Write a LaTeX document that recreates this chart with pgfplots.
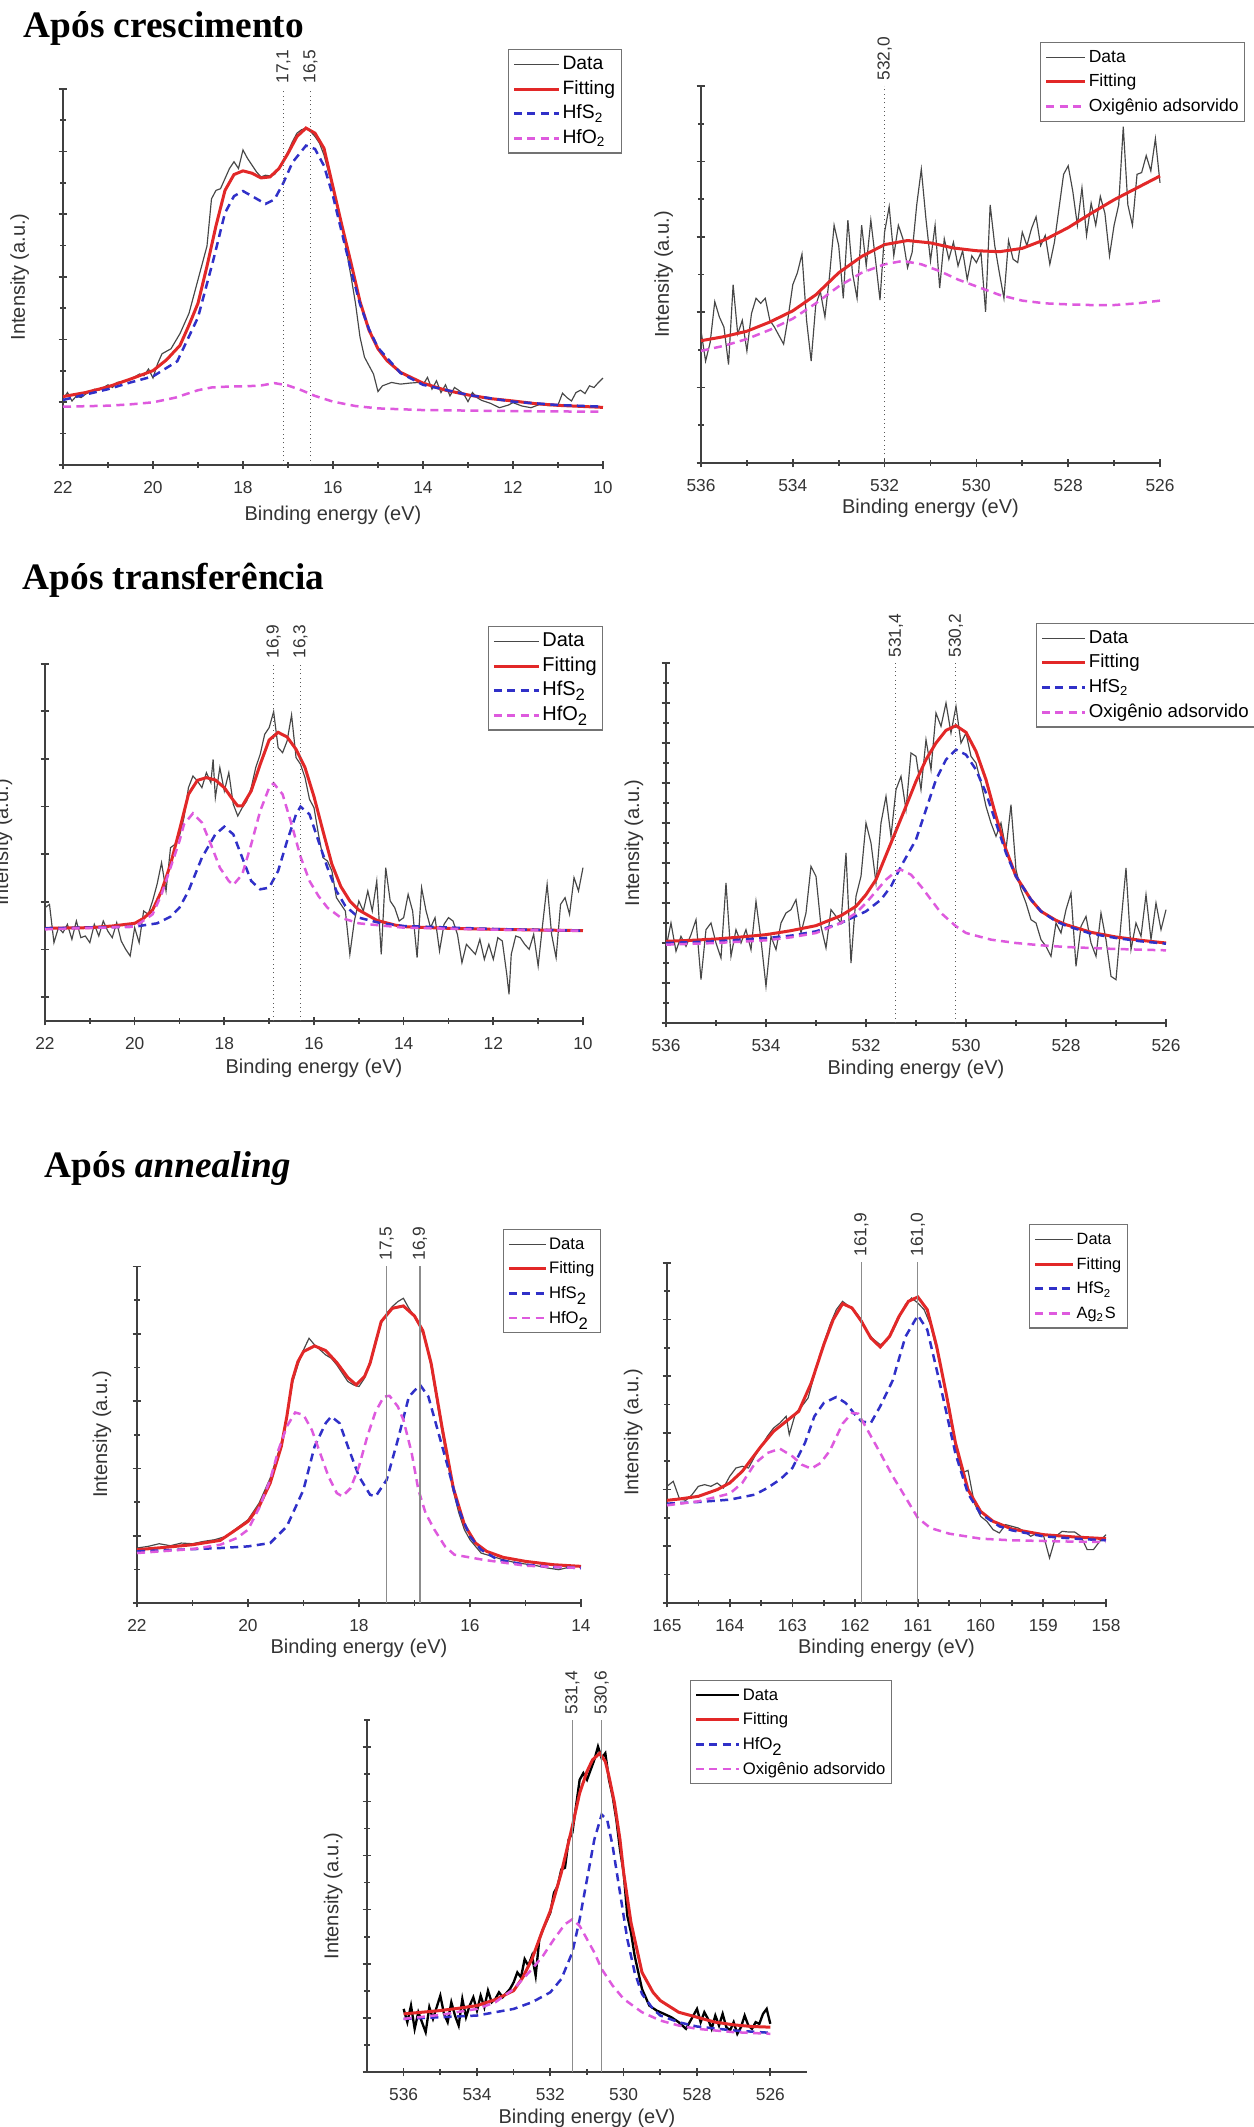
\documentclass[border=0pt]{standalone}
\usepackage{fontspec}
\setmainfont{Liberation Sans}
\newfontfamily\titlefont{Liberation Serif}
\usepackage{pgfplots}
\pgfplotsset{compat=1.18}

\definecolor{fitred}{RGB}{226,40,40}
\definecolor{hfsblue}{RGB}{48,48,200}
\definecolor{hfopink}{RGB}{222,90,222}

\tikzset{
  dat/.style={color=black!72, line width=0.35pt},
  fit/.style={color=fitred, line width=0.9pt},
  hfs/.style={color=hfsblue, line width=0.75pt, dash pattern=on 2.4pt off 1.6pt},
  hfo/.style={color=hfopink, line width=0.75pt, dash pattern=on 2.4pt off 1.6pt},
  pk/.style={black!65, line width=0.3pt, densely dotted},
  pks/.style={black!45, line width=0.35pt},
  pklab/.style={rotate=90, anchor=west, inner sep=1.5pt, font=\fontsize{5.2}{6}\selectfont, text=black!80},
}

\pgfplotsset{
  legimg/.style={legend image code/.code={\draw[##1] (0pt,0pt) -- (#1,0pt);}},
  legfont/.style={legend style={font=\fontsize{#1}{6}\selectfont}},
  xps/.style={
    scale only axis, axis lines*=left,
    axis line style={-, line width=0.6pt, draw=black!75},
    x dir=reverse, tick align=center,
    major tick length=2.6pt, minor tick length=1.6pt,
    every tick/.style={black!75, line width=0.5pt},
    minor x tick num=1, minor y tick num=1,
    yticklabels={},
    ticklabel style={font=\fontsize{5.2}{6}\selectfont, text=black!80},
    /pgf/number format/assume math mode=true,
    label style={font=\fontsize{6}{7}\selectfont, text=black!80},
    clip=false, ymin=0,
    legend cell align=left,
    legend style={draw=black!55, line width=0.35pt, fill=white, anchor=north west,
      inner xsep=1.2pt, inner ysep=1pt, row sep=0.6pt,
      nodes={inner sep=0.6pt, text height=4.3pt, text depth=1.3pt}},
    legimg=13pt, legfont=5.8,
    xlabel={Binding energy (eV)}, ylabel={Intensity (a.u.)},
  },
}

\begin{document}
\begin{tikzpicture}

% titles
\node[anchor=base west, inner sep=0pt, font=\titlefont\bfseries\fontsize{11.2}{13}\selectfont] at (6.9pt,626.7pt) {Após crescimento};
\node[anchor=base west, inner sep=0pt, font=\titlefont\bfseries\fontsize{11.2}{13}\selectfont] at (6.6pt,461.1pt) {Após transferência};
\node[anchor=base west, inner sep=0pt, font=\titlefont\bfseries\fontsize{11.2}{13}\selectfont] at (13.2pt,284.7pt) {Após \textit{annealing}};

% ---------- panel 1: Hf 4f, after growth
\begin{axis}[xps, at={(18.9pt,498.6pt)}, anchor=south west, width=162pt, height=112.8pt,
  xmin=10, xmax=22, xtick={10,12,...,22}, ymax=1116, ytick distance=186,
  xlabel style={at={(axis description cs:0.5,-0.133)}, anchor=center},
  ylabel style={at={(axis description cs:-0.08,0.5)}, anchor=center},
  legend style={at={(0.824,1.106)}}, legimg=13.5pt, legfont=5.8]
\addplot[dat] coordinates {(22,195) (21.9,215) (21.8,190) (21.7,205) (21.6,200) (21.5,210) (21.3,225) (21.2,222) (21.0,238) (20.9,230) (20.8,245) (20.6,250) (20.4,262) (20.3,270) (20.2,265) (20.1,285) (20.0,258) (19.9,300) (19.8,330) (19.6,345) (19.4,390) (19.2,450) (19.0,550) (18.8,650) (18.7,790) (18.6,815) (18.5,820) (18.4,850) (18.3,880) (18.2,900) (18.1,880) (18.0,935) (17.9,910) (17.8,890) (17.7,870) (17.6,855) (17.5,860) (17.4,858) (17.3,862) (17.2,880) (17.1,905) (17.0,930) (16.9,960) (16.8,985) (16.7,995) (16.6,1000) (16.5,990) (16.4,975) (16.3,955) (16.2,920) (16.0,820) (15.8,710) (15.6,560) (15.5,480) (15.4,380) (15.3,320) (15.1,270) (15.0,218) (14.9,235) (14.7,245) (14.5,240) (14.3,243) (14.1,245) (14.0,238) (13.9,260) (13.8,225) (13.7,250) (13.6,215) (13.5,238) (13.4,205) (13.3,230) (13.1,212) (13.0,188) (12.9,215) (12.8,200) (12.7,192) (12.5,183) (12.3,170) (12.1,178) (12.0,185) (11.8,175) (11.6,170) (11.4,180) (11.2,176) (11.0,178) (10.9,213) (10.8,200) (10.7,190) (10.6,215) (10.5,222) (10.4,212) (10.3,235) (10.2,230) (10.1,245) (10.0,258)};
\addlegendentry{Data}
\addplot[fit] coordinates {(22,203) (21.5,215) (21,232) (20.5,255) (20,280) (19.7,312) (19.4,355) (19.2,415) (19,480) (18.8,590) (18.6,710) (18.4,815) (18.2,862) (18.0,873) (17.8,866) (17.6,852) (17.4,855) (17.2,880) (17.0,925) (16.8,975) (16.6,1000) (16.4,985) (16.2,940) (16.0,825) (15.8,710) (15.6,600) (15.4,485) (15.2,400) (15.0,345) (14.8,310) (14.5,275) (14.0,243) (13.5,222) (13,208) (12.5,197) (12,190) (11.5,182) (11,177) (10.5,174) (10,171)};
\addlegendentry{Fitting}
\addplot[hfs] coordinates {(22,193) (21,225) (20.5,245) (20,263) (19.46,308) (19.0,438) (18.66,608) (18.4,748) (18.2,798) (18.0,813) (17.8,798) (17.5,775) (17.3,788) (17.1,838) (16.9,898) (16.6,948) (16.4,938) (16.2,888) (16.0,798) (15.8,688) (15.6,578) (15.4,478) (15.2,403) (15.0,348) (14.5,273) (14.0,238) (13,208) (12,188) (11,178) (10,173)};
\addlegendentry{HfS\textsubscript{2}}
\addplot[hfo] coordinates {(22,173) (21,176) (20.5,180) (20,186) (19.5,200) (19,222) (18.7,230) (18.3,233) (18,233) (17.6,236) (17.3,243) (17.0,236) (16.7,222) (16.4,205) (16.0,188) (15.5,175) (15,168) (14,163) (12,160) (10,158)};
\addlegendentry{HfO\textsubscript{2}}
\draw[pk] (17.1,0) -- (17.1,1116) node[pklab] {17,1};
\draw[pk] (16.5,0) -- (16.5,1116) node[pklab] {16,5};
\end{axis}

% ---------- panel 2: O 1s, after growth
\begin{axis}[xps, at={(210.3pt,499.2pt)}, anchor=south west, width=137.7pt, height=113.1pt,
  xmin=526, xmax=536, xtick={526,528,...,536}, ymax=1110, ytick distance=222,
  xlabel style={at={(axis description cs:0.5,-0.12)}, anchor=center},
  ylabel style={at={(axis description cs:-0.081,0.5)}, anchor=center},
  legend style={at={(0.739,1.117)}}, legimg=11.7pt, legfont=5.25]
\addplot[dat] coordinates {(536.0,390) (535.9,300) (535.8,355) (535.7,475) (535.6,430) (535.5,400) (535.4,290) (535.3,525) (535.2,380) (535.1,420) (535.0,330) (534.9,440) (534.8,485) (534.7,470) (534.6,485) (534.5,420) (534.4,400) (534.3,375) (534.2,350) (534.1,430) (534.0,525) (533.9,560) (533.8,615) (533.7,420) (533.6,300) (533.5,465) (533.4,505) (533.3,430) (533.2,550) (533.1,700) (533.0,640) (532.9,485) (532.8,715) (532.7,560) (532.6,485) (532.5,700) (532.4,580) (532.3,715) (532.2,600) (532.1,480) (532.0,680) (531.9,755) (531.8,610) (531.7,700) (531.6,660) (531.5,575) (531.4,620) (531.3,760) (531.2,865) (531.1,720) (531.0,595) (530.9,700) (530.8,515) (530.7,660) (530.6,600) (530.5,650) (530.4,580) (530.3,625) (530.2,540) (530.1,610) (530.0,590) (529.9,620) (529.8,445) (529.7,760) (529.6,640) (529.5,560) (529.4,485) (529.3,655) (529.2,600) (529.1,590) (529.0,680) (528.9,640) (528.8,690) (528.7,725) (528.6,640) (528.5,670) (528.4,585) (528.3,650) (528.2,750) (528.1,850) (528.0,875) (527.9,800) (527.8,700) (527.7,810) (527.6,670) (527.5,765) (527.4,700) (527.3,785) (527.2,735) (527.1,610) (527.0,700) (526.9,760) (526.8,990) (526.7,760) (526.6,700) (526.5,850) (526.4,855) (526.3,905) (526.2,860) (526.1,955) (526.0,825)};
\addlegendentry{Data}
\addplot[fit] coordinates {(536,360) (535.5,372) (535,388) (534.5,415) (534,448) (533.5,495) (533,560) (532.5,608) (532,643) (531.5,655) (531,648) (530.5,633) (530,625) (529.5,622) (529,632) (528.5,658) (528,693) (527.5,735) (527,775) (526.5,810) (526,845)};
\addlegendentry{Fitting}
\addplot[hfo] coordinates {(536,330) (535.5,345) (535,365) (534.5,392) (534,425) (533.5,470) (533,520) (532.5,560) (532,585) (531.6,595) (531.2,585) (530.8,565) (530.4,540) (530,520) (529.5,495) (529,478) (528.5,470) (528,467) (527.5,465) (527,465) (526.5,470) (526,478)};
\addlegendentry{Oxigênio adsorvido}
\draw[pk] (532,0) -- (532,1110) node[pklab] {532,0};
\end{axis}

% ---------- panel 3: Hf 4f, after transfer
\begin{axis}[xps, at={(13.5pt,331.8pt)}, anchor=south west, width=161.4pt, height=107.1pt,
  xmin=10, xmax=22, xtick={10,12,...,22}, ymax=1071, ytick={71,214,357,500,643,786,929,1071},
  xlabel style={at={(axis description cs:0.5,-0.132)}, anchor=center},
  ylabel style={at={(axis description cs:-0.078,0.5)}, anchor=center},
  legend style={at={(0.823,1.106)}}, legimg=13.5pt, legfont=6]
\addplot[dat] coordinates {(22,340) (21.9,350) (21.8,235) (21.7,280) (21.6,265) (21.5,290) (21.4,245) (21.3,300) (21.2,250) (21.1,255) (21.0,235) (20.9,290) (20.8,255) (20.7,300) (20.6,270) (20.5,250) (20.4,295) (20.3,240) (20.2,215) (20.1,195) (20.0,280) (19.9,235) (19.8,330) (19.7,320) (19.6,360) (19.5,410) (19.4,475) (19.3,390) (19.2,520) (19.1,530) (19.0,555) (18.9,610) (18.8,700) (18.7,735) (18.6,720) (18.5,700) (18.4,745) (18.3,715) (18.25,785) (18.2,670) (18.1,760) (18.0,690) (17.9,745) (17.8,650) (17.7,615) (17.6,640) (17.5,660) (17.4,700) (17.3,760) (17.2,800) (17.1,860) (17.0,880) (16.9,928) (16.8,820) (16.7,805) (16.6,840) (16.5,918) (16.4,790) (16.3,770) (16.2,730) (16.1,665) (16.0,640) (15.9,560) (15.8,490) (15.7,480) (15.6,450) (15.5,370) (15.4,350) (15.3,330) (15.2,200) (15.1,300) (15.0,360) (14.9,330) (14.8,390) (14.7,330) (14.6,420) (14.5,200) (14.4,460) (14.3,360) (14.2,340) (14.1,300) (14.0,310) (13.9,380) (13.8,330) (13.7,190) (13.6,400) (13.5,330) (13.4,280) (13.3,310) (13.2,210) (13.1,290) (13.0,310) (12.9,300) (12.8,260) (12.7,175) (12.6,230) (12.5,215) (12.4,200) (12.3,245) (12.2,185) (12.1,230) (12.0,185) (11.9,250) (11.8,240) (11.7,140) (11.65,80) (11.6,200) (11.5,255) (11.4,250) (11.3,230) (11.2,215) (11.1,260) (11.0,165) (10.9,290) (10.8,410) (10.7,260) (10.6,190) (10.5,350) (10.4,370) (10.3,320) (10.2,430) (10.1,390) (10.0,460)};
\addlegendentry{Data}
\addplot[fit] coordinates {(22,278) (21,280) (20.5,285) (20,293) (19.8,308) (19.6,333) (19.4,390) (19.2,470) (19.0,573) (18.8,680) (18.6,722) (18.4,730) (18.2,723) (18.0,700) (17.8,662) (17.7,645) (17.6,645) (17.4,690) (17.2,770) (17.0,843) (16.8,866) (16.6,852) (16.4,815) (16.2,760) (16.0,673) (15.8,570) (15.6,470) (15.4,403) (15.2,360) (15.0,333) (14.6,302) (14.2,288) (14,283) (13,278) (12,275) (11,273) (10,271)};
\addlegendentry{Fitting}
\addplot[hfs] coordinates {(22,278) (20,283) (19.5,293) (19.2,313) (19,340) (18.8,390) (18.5,490) (18.2,560) (18.0,583) (17.8,560) (17.6,490) (17.4,420) (17.2,395) (17.0,400) (16.8,450) (16.6,540) (16.4,620) (16.3,643) (16.1,620) (15.9,540) (15.7,460) (15.5,390) (15.3,345) (15.0,310) (14.5,293) (14,285) (12,276) (10,271)};
\addlegendentry{HfS\textsubscript{2}}
\addplot[hfo] coordinates {(22,275) (20,283) (19.6,320) (19.4,380) (19.2,460) (19.0,540) (18.9,590) (18.7,623) (18.5,595) (18.3,530) (18.1,460) (17.9,420) (17.8,408) (17.6,440) (17.4,530) (17.2,630) (17.0,700) (16.9,713) (16.7,680) (16.5,590) (16.3,493) (16.1,420) (15.9,375) (15.7,340) (15.4,310) (15,293) (14,280) (12,274) (10,271)};
\addlegendentry{HfO\textsubscript{2}}
\draw[pk] (16.9,0) -- (16.9,1071) node[pklab] {16,9};
\draw[pk] (16.3,0) -- (16.3,1071) node[pklab] {16,3};
\end{axis}

% ---------- panel 4: O 1s, after transfer
\begin{axis}[xps, at={(199.8pt,331.2pt)}, anchor=south west, width=150pt, height=108pt,
  xmin=526, xmax=536, xtick={526,528,...,536}, ymax=1080, ytick distance=120,
  xlabel style={at={(axis description cs:0.5,-0.13)}, anchor=center},
  ylabel style={at={(axis description cs:-0.064,0.5)}, anchor=center},
  legend style={at={(0.74,1.111)}}, legimg=13pt, legfont=5.6]
\addplot[dat] coordinates {(536.0,225) (535.9,300) (535.8,215) (535.7,260) (535.6,230) (535.5,265) (535.4,310) (535.3,130) (535.2,280) (535.1,300) (535.0,240) (534.9,195) (534.8,420) (534.75,310) (534.7,200) (534.6,280) (534.5,240) (534.4,280) (534.3,220) (534.2,365) (534.1,250) (534.0,110) (533.9,260) (533.8,220) (533.7,300) (533.6,330) (533.5,340) (533.4,370) (533.3,270) (533.2,330) (533.1,470) (533.0,440) (532.9,290) (532.8,225) (532.7,340) (532.6,320) (532.5,300) (532.4,510) (532.3,180) (532.2,380) (532.1,440) (532.0,600) (531.9,540) (531.8,420) (531.7,600) (531.6,680) (531.5,560) (531.4,700) (531.3,740) (531.2,640) (531.1,810) (531.0,800) (530.9,700) (530.8,850) (530.7,760) (530.6,930) (530.5,890) (530.4,960) (530.3,870) (530.2,950) (530.1,840) (530.0,870) (529.9,800) (529.8,780) (529.7,720) (529.6,650) (529.5,600) (529.4,560) (529.3,600) (529.2,520) (529.1,655) (529.0,460) (528.9,400) (528.8,360) (528.7,310) (528.6,300) (528.5,250) (528.4,230) (528.3,200) (528.2,300) (528.1,270) (528.0,340) (527.9,390) (527.8,170) (527.7,290) (527.6,320) (527.5,240) (527.4,200) (527.3,330) (527.2,250) (527.1,140) (527.0,130) (526.9,300) (526.8,465) (526.7,220) (526.6,300) (526.5,260) (526.4,385) (526.3,250) (526.2,360) (526.1,280) (526.0,340)};
\addlegendentry{Data}
\addplot[fit] coordinates {(536,245) (535.5,248) (535,252) (534.5,258) (534,265) (533.5,277) (533,292) (532.5,322) (532.2,350) (532,385) (531.8,430) (531.5,540) (531.2,650) (531,725) (530.8,790) (530.6,840) (530.4,878) (530.2,892) (530,872) (529.8,815) (529.6,730) (529.4,620) (529.2,520) (529,440) (528.7,370) (528.5,335) (528.2,308) (528,295) (527.5,272) (527,258) (526.5,248) (526,240)};
\addlegendentry{Fitting}
\addplot[hfs] coordinates {(536,240) (535,245) (534,255) (533.5,262) (533,275) (532.5,300) (532,335) (531.7,370) (531.5,410) (531.3,470) (531,550) (530.8,640) (530.6,730) (530.4,790) (530.2,820) (530,805) (529.8,760) (529.6,690) (529.4,600) (529.2,510) (529,440) (528.7,370) (528.5,335) (528.2,305) (528,292) (527.5,268) (527,255) (526.5,245) (526,238)};
\addlegendentry{HfS\textsubscript{2}}
\addplot[hfo] coordinates {(536,235) (535,240) (534,248) (533.5,257) (533,270) (532.5,300) (532.2,330) (532,360) (531.8,395) (531.6,430) (531.4,455) (531.3,460) (531.1,445) (530.9,410) (530.7,370) (530.5,330) (530.2,290) (530,270) (529.5,250) (529,240) (528.5,233) (528,228) (527,222) (526,218)};
\addlegendentry{Oxigênio adsorvido}
\draw[pk] (531.4,0) -- (531.4,1080) node[pklab] {531,4};
\draw[pk] (530.2,0) -- (530.2,1080) node[pklab] {530,2};
\end{axis}

% ---------- panel 5: Hf 4f, after annealing
\begin{axis}[xps, at={(41.1pt,157.2pt)}, anchor=south west, width=133.2pt, height=101.1pt,
  xmin=14, xmax=22, xtick={14,16,...,22}, ymax=1012, ytick distance=202,
  xlabel style={at={(axis description cs:0.5,-0.134)}, anchor=center},
  ylabel style={at={(axis description cs:-0.079,0.5)}, anchor=center},
  legend style={at={(0.824,1.110)}}, legimg=11pt, legfont=5]
\addplot[dat] coordinates {(22,165) (21.8,170) (21.6,178) (21.4,172) (21.2,180) (21.0,178) (20.8,185) (20.6,190) (20.4,200) (20.2,225) (20.0,250) (19.8,300) (19.6,375) (19.4,480) (19.3,560) (19.2,660) (19.1,715) (19.0,760) (18.9,795) (18.8,775) (18.7,760) (18.6,745) (18.5,735) (18.4,715) (18.3,690) (18.2,665) (18.1,655) (18.0,650) (17.9,675) (17.8,725) (17.7,790) (17.6,840) (17.5,870) (17.4,890) (17.3,905) (17.2,915) (17.1,885) (17.0,860) (16.9,830) (16.8,790) (16.7,710) (16.6,610) (16.5,510) (16.4,420) (16.3,335) (16.2,270) (16.1,220) (16.0,190) (15.8,150) (15.6,140) (15.4,130) (15.2,122) (15.0,117) (14.8,112) (14.6,105) (14.4,100) (14.2,108) (14.0,112)};
\addlegendentry{Data}
\addplot[fit] coordinates {(22,160) (21.5,167) (21,175) (20.5,188) (20.2,222) (20,245) (19.8,290) (19.6,360) (19.4,470) (19.3,560) (19.2,670) (19.1,725) (19.0,755) (18.8,772) (18.6,758) (18.4,722) (18.2,677) (18.05,655) (17.9,680) (17.8,720) (17.6,845) (17.4,885) (17.2,892) (17.0,862) (16.85,818) (16.7,720) (16.5,525) (16.3,345) (16.1,235) (15.9,180) (15.7,155) (15.4,137) (15,125) (14.5,115) (14,110)};
\addlegendentry{Fitting}
\addplot[hfs] coordinates {(22,155) (20.5,165) (20,170) (19.6,180) (19.3,230) (19.0,340) (18.8,470) (18.6,540) (18.5,560) (18.35,540) (18.2,470) (18.0,380) (17.8,325) (17.7,320) (17.5,370) (17.3,490) (17.1,620) (16.9,655) (16.75,620) (16.6,530) (16.4,410) (16.2,280) (16.0,200) (15.8,160) (15.5,130) (15,115) (14.5,108) (14,105)};
\addlegendentry{HfS\textsubscript{2}}
\addplot[hfo] coordinates {(22,150) (21,162) (20.5,175) (20.2,195) (20,220) (19.8,285) (19.6,370) (19.45,460) (19.3,530) (19.15,572) (19.0,565) (18.85,520) (18.7,450) (18.55,380) (18.4,330) (18.3,320) (18.15,345) (18.0,410) (17.85,500) (17.7,575) (17.55,620) (17.45,622) (17.3,590) (17.2,550) (17.05,450) (16.93,340) (16.8,270) (16.64,220) (16.45,170) (16.28,145) (15.77,130) (15,112) (14,105)};
\addlegendentry{HfO\textsubscript{2}}
\draw[pks] (17.5,0) -- (17.5,1012) node[pklab] {17,5};
\draw[pks] (16.9,0) -- (16.9,1012) node[pklab] {16,9};
\end{axis}

% ---------- panel 6: S 2p, after annealing
\begin{axis}[xps, at={(200.1pt,157.2pt)}, anchor=south west, width=131.7pt, height=102.3pt,
  xmin=158, xmax=165, xtick={158,...,165}, ymax=1023, ytick distance=170,
  xlabel style={at={(axis description cs:0.5,-0.134)}, anchor=center},
  ylabel style={at={(axis description cs:-0.077,0.5)}, anchor=center},
  legend style={at={(0.825,1.111)}}, legimg=11.4pt, legfont=4.9]
\addplot[dat] coordinates {(165,350) (164.9,365) (164.8,312) (164.7,308) (164.6,325) (164.5,350) (164.4,355) (164.3,350) (164.2,360) (164.1,345) (164.0,380) (163.9,405) (163.8,410) (163.7,405) (163.6,440) (163.5,470) (163.4,500) (163.3,525) (163.2,540) (163.1,560) (163.05,505) (162.95,570) (162.85,590) (162.75,615) (162.6,720) (162.5,780) (162.4,835) (162.3,880) (162.2,905) (162.1,890) (162.0,875) (161.9,850) (161.8,810) (161.7,790) (161.6,775) (161.5,785) (161.4,815) (161.3,855) (161.2,895) (161.1,915) (161.0,900) (160.9,880) (160.8,835) (160.7,760) (160.6,680) (160.5,590) (160.4,470) (160.3,390) (160.2,398) (160.1,300) (160.0,260) (159.9,245) (159.8,220) (159.7,210) (159.6,235) (159.5,230) (159.4,225) (159.3,215) (159.2,200) (159.1,210) (159.0,205) (158.9,135) (158.8,200) (158.7,215) (158.6,213) (158.5,213) (158.4,200) (158.3,160) (158.2,160) (158.1,185) (158.0,205)};
\addlegendentry{Data}
\addplot[fit] coordinates {(165,308) (164.8,312) (164.5,320) (164.2,340) (164,360) (163.8,395) (163.5,470) (163.3,515) (163.1,545) (162.9,575) (162.7,660) (162.5,775) (162.35,850) (162.2,898) (162.05,885) (161.9,845) (161.75,795) (161.6,768) (161.45,800) (161.3,860) (161.15,905) (161.0,918) (160.85,880) (160.7,770) (160.55,630) (160.4,480) (160.2,340) (160.0,275) (159.8,245) (159.5,222) (159,205) (158.5,198) (158,193)};
\addlegendentry{Fitting}
\addplot[hfs] coordinates {(165,298) (164.5,303) (164,310) (163.6,325) (163.4,345) (163.2,370) (163,405) (162.8,480) (162.65,560) (162.5,600) (162.3,618) (162.15,600) (162.0,565) (161.9,545) (161.75,540) (161.6,590) (161.4,668) (161.2,798) (161.0,863) (160.85,820) (160.7,700) (160.6,618) (160.4,448) (160.2,328) (160,268) (159.7,230) (159.5,218) (159,200) (158.5,193) (158,188)};
\addlegendentry{HfS\textsubscript{2}}
\addplot[hfo] coordinates {(165,293) (164.5,305) (164,328) (163.8,360) (163.6,418) (163.4,450) (163.2,463) (163.0,440) (162.85,415) (162.7,403) (162.55,420) (162.4,458) (162.2,538) (162.05,570) (161.95,568) (161.8,518) (161.6,450) (161.4,380) (161.2,318) (161.0,255) (160.8,225) (160.5,208) (160,193) (159.5,188) (159,186) (158.5,184) (158,183)};
\addlegendentry{Ag\textsubscript{2}S}
\draw[pks] (161.9,0) -- (161.9,1023) node[pklab] {161,9};
\draw[pks] (161.0,0) -- (161.0,1023) node[pklab] {161,0};
\end{axis}

% ---------- panel 7: O 1s, after annealing
\begin{axis}[xps, at={(110.1pt,16.5pt)}, anchor=south west, width=132pt, height=105.6pt,
  xmin=525, xmax=537, xtick={526,528,...,536}, ymax=1060, ytick distance=163,
  xlabel style={at={(axis description cs:0.5,-0.131)}, anchor=center},
  ylabel style={at={(axis description cs:-0.077,0.5)}, anchor=center},
  legend style={at={(0.734,1.114)}}, legimg=13pt, legfont=5]
\addplot[color=black, line width=0.7pt] coordinates {(536,190) (535.9,150) (535.8,200) (535.7,130) (535.6,180) (535.5,150) (535.4,120) (535.3,195) (535.2,160) (535.0,230) (534.9,175) (534.8,150) (534.7,210) (534.6,170) (534.5,140) (534.4,220) (534.3,165) (534.2,200) (534.1,225) (534.0,185) (533.9,230) (533.8,195) (533.7,245) (533.6,210) (533.5,220) (533.4,240) (533.3,225) (533.1,250) (533.0,270) (532.9,300) (532.8,285) (532.7,340) (532.6,320) (532.5,350) (532.4,290) (532.3,400) (532.2,430) (532.0,480) (531.9,540) (531.8,560) (531.7,610) (531.6,615) (531.5,700) (531.4,720) (531.3,800) (531.2,880) (531.1,900) (531.0,880) (530.9,910) (530.8,940) (530.7,980) (530.6,945) (530.5,960) (530.4,880) (530.3,830) (530.2,760) (530.1,670) (530.0,600) (529.9,470) (529.8,420) (529.7,350) (529.6,300) (529.5,250) (529.3,200) (529.1,185) (528.9,175) (528.7,165) (528.5,150) (528.3,130) (528.1,170) (528.0,190) (527.9,150) (527.8,180) (527.7,160) (527.6,130) (527.5,170) (527.4,140) (527.3,175) (527.2,135) (527.1,125) (527.0,150) (526.9,115) (526.8,135) (526.7,170) (526.6,140) (526.5,130) (526.4,150) (526.3,145) (526.2,175) (526.1,190) (526.0,145)};
\addlegendentry{Data}
\addplot[fit] coordinates {(536,175) (535.5,180) (535,185) (534.5,192) (534,200) (533.5,218) (533,245) (532.75,285) (532.5,340) (532.2,430) (532,485) (531.7,600) (531.4,740) (531.2,840) (531.0,905) (530.85,940) (530.65,960) (530.5,935) (530.4,890) (530.25,810) (530.1,700) (530.0,600) (529.8,450) (529.5,300) (529.2,240) (529.0,215) (528.5,180) (528,165) (527.5,150) (527,142) (526.5,137) (526,135)};
\addlegendentry{Fitting}
\addplot[hfs] coordinates {(536,160) (534,170) (533,190) (532.5,210) (532,240) (531.7,280) (531.4,360) (531.2,460) (531.0,580) (530.8,700) (530.6,775) (530.45,760) (530.3,680) (530.1,540) (529.9,400) (529.7,300) (529.5,235) (529.2,190) (529,170) (528.5,150) (528,137) (527,125) (526,118)};
\addlegendentry{HfO\textsubscript{2}}
\addplot[hfo] coordinates {(536,160) (535,172) (534,190) (533.5,210) (533,250) (532.5,310) (532.2,350) (531.9,400) (531.6,445) (531.4,460) (531.2,440) (531.0,400) (530.8,360) (530.6,310) (530.3,260) (530.0,220) (529.5,180) (529,155) (528.5,140) (528,130) (527,120) (526,115)};
\addlegendentry{Oxigênio adsorvido}
\draw[pks] (531.4,0) -- (531.4,1060) node[pklab] {531,4};
\draw[pks] (530.6,0) -- (530.6,1060) node[pklab] {530,6};
\end{axis}

\pgfresetboundingbox
\useasboundingbox (0,0) rectangle (375.9pt,638.1pt);
\end{tikzpicture}
\end{document}
